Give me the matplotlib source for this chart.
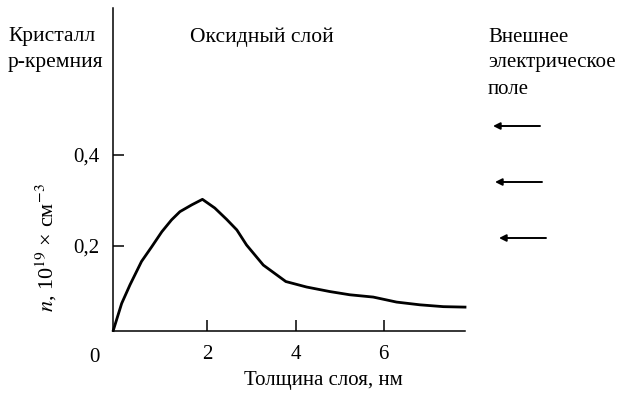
import matplotlib.pyplot as plt
import matplotlib.ticker as ticker

# === Carrier concentration profile across the oxide layer ===
thickness = [-0.13, 0.06, 0.25, 0.51, 0.74, 0.97, 1.19, 1.38, 1.65, 1.89,
             2.17, 2.44, 2.67, 2.89, 3.27, 3.78, 4.25, 4.78, 5.23, 5.76,
             6.29, 6.82, 7.35, 7.84]
concentration = [0.015, 0.074, 0.115, 0.166, 0.198, 0.231, 0.257, 0.275, 0.290, 0.302,
                 0.283, 0.258, 0.235, 0.202, 0.158, 0.122, 0.110, 0.100, 0.093, 0.088,
                 0.077, 0.071, 0.067, 0.066]

x_ticks = [2, 4, 6]
y_ticks = [0.2, 0.4]
y_tick_labels = ["0,2", "0,4"]

plt.rcParams['font.family'] = ['Liberation Serif', 'DejaVu Serif']
plt.rcParams['mathtext.fontset'] = 'stix'

fig = plt.figure(figsize=(6.2, 3.94), dpi=100)
ax = fig.add_axes([0.1827, 0.1591, 0.5673, 0.8206])

ax.plot(thickness, concentration, color='black', linewidth=2.0,
        solid_joinstyle='round', clip_on=False)

ax.set_xlim(-0.13, 7.84)
ax.set_ylim(0.013, 0.721)

for side in ('top', 'right'):
    ax.spines[side].set_visible(False)
for side in ('left', 'bottom'):
    ax.spines[side].set_linewidth(1.1)

ax.xaxis.set_major_locator(ticker.FixedLocator(x_ticks))
ax.yaxis.set_major_locator(ticker.FixedLocator(y_ticks))
ax.set_yticklabels(y_tick_labels)
ax.tick_params(direction='in', length=8, width=1.1, labelsize=15, pad=10)

ax.set_xlabel("Толщина слоя, нм", fontsize=15)
ax.xaxis.set_label_coords(0.598, -0.151)
ax.xaxis.label.set_va('center')
ax.set_ylabel(r"$n$, 10$^{19}$ × см$^{-3}$", fontsize=16)
ax.yaxis.set_label_coords(-0.19, 0.258)
ax.yaxis.label.set_va('center')

# origin label sits left of the corner
fig.text(94 / 620, 1 - 357 / 394, "0", fontsize=15, ha='center', va='center')

# === Region captions ===
fig.text(8 / 620, 1 - 37 / 394, "Кристалл", fontsize=15.5, va='center')
fig.text(8 / 620, 1 - 63 / 394, "р-кремния", fontsize=15.5, va='center')
fig.text(262 / 620, 1 - 37 / 394, "Оксидный слой", fontsize=15.5,
         ha='center', va='center')
for i, line_text in enumerate(["Внешнее", "электрическое", "поле"]):
    fig.text(488 / 620, 1 - (37 + 26 * i) / 394, line_text, fontsize=15, va='center')

# === Field direction arrows ===
for x0, x1, y in [(540, 493, 126), (542, 495, 182), (546, 499, 238)]:
    ax.annotate("", xy=(x1 / 620, 1 - y / 394),
                xytext=(x0 / 620, 1 - y / 394),
                xycoords='figure fraction', textcoords='figure fraction',
                arrowprops=dict(arrowstyle='-|>', color='black', lw=1.4,
                                mutation_scale=10, shrinkA=0, shrinkB=0))

fig.savefig("out.png", dpi=100)
